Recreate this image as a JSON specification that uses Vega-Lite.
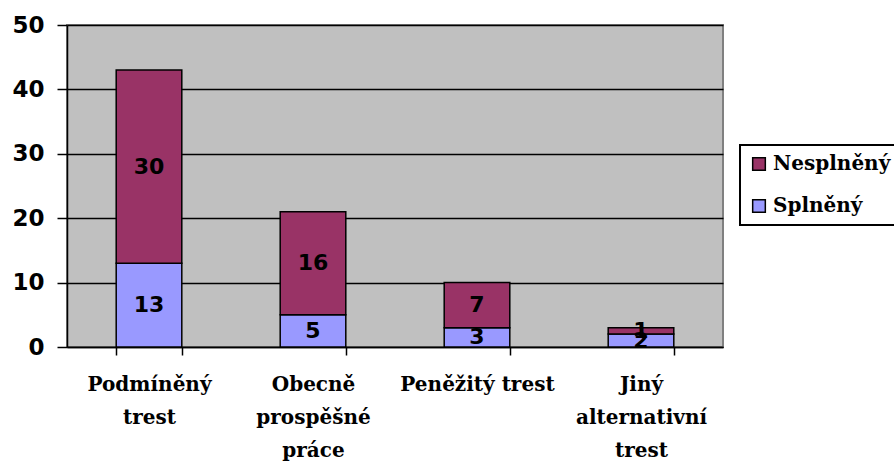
{
  "$schema": "https://vega.github.io/schema/vega-lite/v6.json",
  "autosize": {"type": "none"},
  "width": 656,
  "height": 322,
  "padding": {"left": 67, "top": 25, "right": 171, "bottom": 118},
  "background": "white",
  "config": {
    "view": {"fill": "#C0C0C0", "stroke": "#808080", "strokeWidth": 2},
    "legend": {"strokeWidth": 2}
  },
  "data": {
    "values": [
      {"trest": "Podmíněný trest", "stav": "Splněný", "pocet": 13},
      {"trest": "Podmíněný trest", "stav": "Nesplněný", "pocet": 30},
      {"trest": "Obecně prospěšné práce", "stav": "Splněný", "pocet": 5},
      {"trest": "Obecně prospěšné práce", "stav": "Nesplněný", "pocet": 16},
      {"trest": "Peněžitý trest", "stav": "Splněný", "pocet": 3},
      {"trest": "Peněžitý trest", "stav": "Nesplněný", "pocet": 7},
      {"trest": "Jiný alternativní trest", "stav": "Splněný", "pocet": 2},
      {"trest": "Jiný alternativní trest", "stav": "Nesplněný", "pocet": 1}
    ]
  },
  "transform": [
    {"stack": "pocet", "groupby": ["trest"], "sort": [{"field": "stav", "order": "descending"}], "as": ["v0", "v1"]},
    {"calculate": "(datum.v0 + datum.v1) / 2", "as": "vmid"}
  ],
  "encoding": {
    "x": {
      "field": "trest", "type": "nominal", "sort": null,
      "scale": {"paddingInner": 0.6, "paddingOuter": 0.3},
      "axis": {
        "title": null, "labelAngle": 0, "tickBand": "extent",
        "domainColor": "black", "domainWidth": 1.5, "tickColor": "black", "tickWidth": 1.5, "tickSize": 8,
        "labelFont": "DejaVu Serif", "labelFontWeight": "bold", "labelFontSize": 20, "labelColor": "black",
        "labelPadding": 19, "labelLineHeight": 33, "labelBaseline": "top",
        "labelExpr": "datum.value == 'Podmíněný trest' ? ['Podmíněný','trest'] : datum.value == 'Obecně prospěšné práce' ? ['Obecně','prospěšné','práce'] : datum.value == 'Jiný alternativní trest' ? ['Jiný','alternativní','trest'] : datum.value"
      }
    }
  },
  "layer": [
    {
      "mark": {"type": "bar", "stroke": "black", "strokeWidth": 1.5},
      "encoding": {
        "y": {
          "field": "v1", "type": "quantitative",
          "scale": {"domain": [0, 50], "nice": false},
          "axis": {
            "title": null, "values": [0, 10, 20, 30, 40, 50],
            "grid": true, "gridColor": "black", "gridWidth": 1.5, "gridOpacity": 1,
            "domainColor": "black", "domainWidth": 1.5, "tickColor": "black", "tickWidth": 1.5, "tickSize": 10,
            "labelFont": "DejaVu Sans", "labelFontWeight": "bold", "labelFontSize": 23, "labelColor": "black",
            "labelPadding": 13
          }
        },
        "y2": {"field": "v0"},
        "color": {
          "field": "stav", "type": "nominal",
          "scale": {"domain": ["Nesplněný", "Splněný"], "range": ["#993366", "#9999FF"]},
          "legend": {
            "title": null, "orient": "none", "legendX": 673, "legendY": 120,
            "strokeColor": "black", "fillColor": "white", "padding": 9,
            "symbolType": "square", "symbolSize": 160, "symbolStrokeColor": "black", "symbolStrokeWidth": 1.5, "symbolOpacity": 1,
            "labelFont": "DejaVu Serif", "labelFontWeight": "bold", "labelFontSize": 20, "labelColor": "black",
            "labelOffset": 4, "rowPadding": 22
          }
        }
      }
    },
    {
      "mark": {"type": "text", "font": "DejaVu Sans", "fontWeight": "bold", "fontSize": 22, "color": "black", "baseline": "middle"},
      "encoding": {
        "y": {"field": "vmid", "type": "quantitative"},
        "text": {"field": "pocet", "type": "quantitative"}
      }
    }
  ]
}
